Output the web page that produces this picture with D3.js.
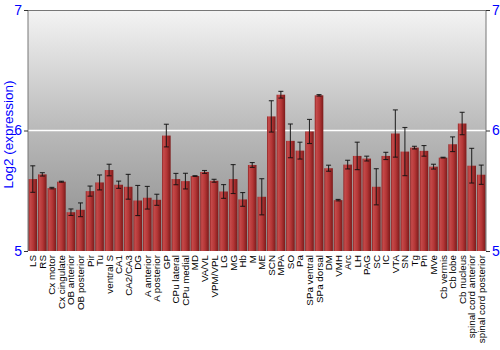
<!DOCTYPE html>
<html><head><meta charset="utf-8">
<script src="https://cdn.jsdelivr.net/npm/d3@7"></script>
<style>body{margin:0;background:#fff}svg{display:block}text{font-family:"Liberation Sans",Arial,sans-serif}</style>
</head><body>
<svg id="c" width="500" height="350"></svg>
<script>
const categories = ["LS","RS","Cx motor","Cx cingulate","OB anterior","OB posterior","Pir","Tu","ventral S","CA1","CA2/CA3","DG","A anterior","A posterior","GP","CPu lateral","CPu medial","MD","VA/VL","VPM/VPL","LG","MG","Hb","M","ME","SCN","MPA","SO","Pa","SPa ventral","SPa dorsal","DM","VMH","Arc","LH","PAG","SC","IC","VTA","SN","Tg","Pn","MVe","Cb vermis","Cb lobe","Cb nucleus","spinal cord anterior","spinal cord posterior"];
const values = [5.597,5.636,5.522,5.575,5.322,5.342,5.497,5.569,5.672,5.55,5.533,5.419,5.442,5.425,5.958,5.597,5.58,5.622,5.656,5.583,5.494,5.597,5.428,5.714,5.45,6.117,6.297,5.914,5.833,5.992,6.292,5.687,5.422,5.717,5.789,5.767,5.533,5.789,5.975,5.825,5.858,5.831,5.7,5.775,5.886,6.058,5.708,5.633];
const errors = [0.11,0.014,0.006,0.004,0.027,0.057,0.042,0.062,0.048,0.03,0.103,0.125,0.094,0.046,0.094,0.047,0.065,0.003,0.012,0.012,0.057,0.12,0.057,0.02,0.15,0.13,0.028,0.14,0.07,0.1,0.006,0.025,0.006,0.036,0.114,0.02,0.15,0.03,0.196,0.2,0.011,0.044,0.02,0.003,0.061,0.093,0.144,0.08];
const yTicks = [5,6,7];
const yTitle = "Log2 (expression)";

const svg = d3.select("#c");
const L = 28, R = 486, T = 10, B = 251;
const x = d3.scaleBand().domain(categories).range([L, R]).paddingInner(0.1).paddingOuter(0.05);
const y = d3.scaleLinear().domain([5, 7]).range([B, T]);

const defs = svg.append("defs");
const bg = defs.append("linearGradient").attr("id","bg").attr("x1",0).attr("y1",0).attr("x2",0).attr("y2",1);
bg.append("stop").attr("offset","0%").attr("stop-color","#f4f4f4");
bg.append("stop").attr("offset","50%").attr("stop-color","#b9b9b9");
bg.append("stop").attr("offset","100%").attr("stop-color","#8a8a8a");
const bar = defs.append("linearGradient").attr("id","bar").attr("x1",0).attr("y1",0).attr("x2",1).attr("y2",0);
bar.append("stop").attr("offset","0%").attr("stop-color","#8e2222");
bar.append("stop").attr("offset","18%").attr("stop-color","#c54a4a");
bar.append("stop").attr("offset","55%").attr("stop-color","#b43636");
bar.append("stop").attr("offset","100%").attr("stop-color","#7c1a1a");

svg.append("rect").attr("x",L).attr("y",T).attr("width",R-L).attr("height",B-T).attr("fill","url(#bg)");

// grid line at 6
svg.append("g").selectAll("line").data(yTicks.filter(t=>t>5&&t<7)).join("line")
  .attr("x1",L).attr("x2",R).attr("y1",d=>y(d)).attr("y2",d=>y(d))
  .attr("stroke","#fff").attr("stroke-width",1.5);

// bars
svg.append("g").selectAll("rect").data(values).join("rect")
  .attr("x",(d,i)=>x(categories[i])).attr("width",x.bandwidth())
  .attr("y",d=>y(d)).attr("height",d=>B-y(d)).attr("fill","url(#bar)");

// error bars
const eg = svg.append("g").attr("stroke","#111").attr("stroke-width",1.1).attr("stroke-opacity",0.85);
values.forEach((v,i)=>{
  const cx = x(categories[i]) + x.bandwidth()/2;
  const e = errors[i];
  eg.append("line").attr("x1",cx).attr("x2",cx).attr("y1",y(v+e)).attr("y2",y(v-e));
  eg.append("line").attr("x1",cx-2.5).attr("x2",cx+2.5).attr("y1",y(v+e)).attr("y2",y(v+e));
  eg.append("line").attr("x1",cx-2.5).attr("x2",cx+2.5).attr("y1",y(v-e)).attr("y2",y(v-e));
});

// frame lines
svg.append("line").attr("x1",L).attr("x2",R).attr("y1",T+0.5).attr("y2",T+0.5).attr("stroke","#777");

// axes
const yl = svg.append("g").attr("transform",`translate(${L},0)`)
  .call(d3.axisLeft(y).tickValues(yTicks).tickFormat(d3.format("d")).tickSize(4).tickPadding(2));
const yr = svg.append("g").attr("transform",`translate(${R},0)`)
  .call(d3.axisRight(y).tickValues(yTicks).tickFormat(d3.format("d")).tickSize(4).tickPadding(2));
[yl,yr].forEach(g=>{
  g.select(".domain").attr("stroke","#777").attr("d", `M0,${T}V${B}`);
  g.selectAll(".tick line").attr("stroke","#333");
  g.selectAll(".tick text").attr("fill","#00f").attr("font-size",14).attr("font-family","Liberation Sans, Arial, sans-serif");
});

svg.append("text").attr("transform",`translate(13,${(T+B)/2 + 4}) rotate(-90)`)
  .attr("text-anchor","middle").attr("fill","#00f").attr("font-size",13.5).text(yTitle);

// category labels
svg.append("g").selectAll("text").data(categories).join("text")
  .attr("transform",d=>`translate(${x(d)+x.bandwidth()/2+3.5},${B+4}) rotate(-90)`)
  .attr("text-anchor","end").attr("font-size",9.8).attr("fill","#000").text(d=>d);
</script>
</body></html>
